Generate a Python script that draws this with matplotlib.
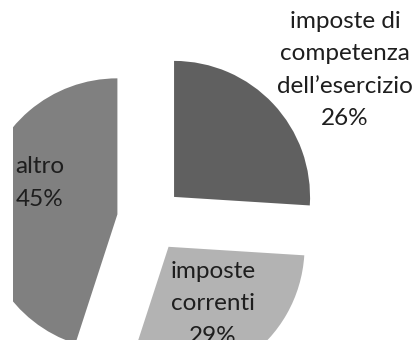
import matplotlib.pyplot as plt

# slice data (clockwise from 12 o'clock)
labels = ["imposte di\ncompetenza\ndell\u2019esercizio", "imposte\ncorrenti", "altro"]
shares = [26, 29, 45]
colors = ["#606060", "#b3b3b3", "#808080"]

fig = plt.figure(figsize=(4.16, 3.40), dpi=100)
# axes works in pixel units, y pointing up (negative image rows)
ax = fig.add_axes([13 / 416, 0, 403 / 416, 1])

# explode is in data units here (radius is 136 px)
wedges, _ = ax.pie(shares, colors=colors, startangle=90, counterclock=False,
                   center=(150, -219.5), radius=136, explode=[33] * 3,
                   wedgeprops=dict(linewidth=0))
for w in wedges:
    w.set_clip_on(True)

# pie() resets the limits, so set them afterwards
ax.set_xlim(13, 416)
ax.set_ylim(-340, 0)
ax.set_aspect("equal")
ax.axis("off")

# label positions picked to match the original layout
label_pos = [(345, -70), (213, -304), (40, -183)]
for (x, y), lab, s in zip(label_pos, labels, shares):
    ax.text(x, y, lab + "\n" + str(s) + "%", ha="center", va="center",
            fontsize=17.5, family="Lato", color="#1e1e1e", linespacing=1.65,
            clip_on=False)

fig.savefig("out.png", dpi=100)
